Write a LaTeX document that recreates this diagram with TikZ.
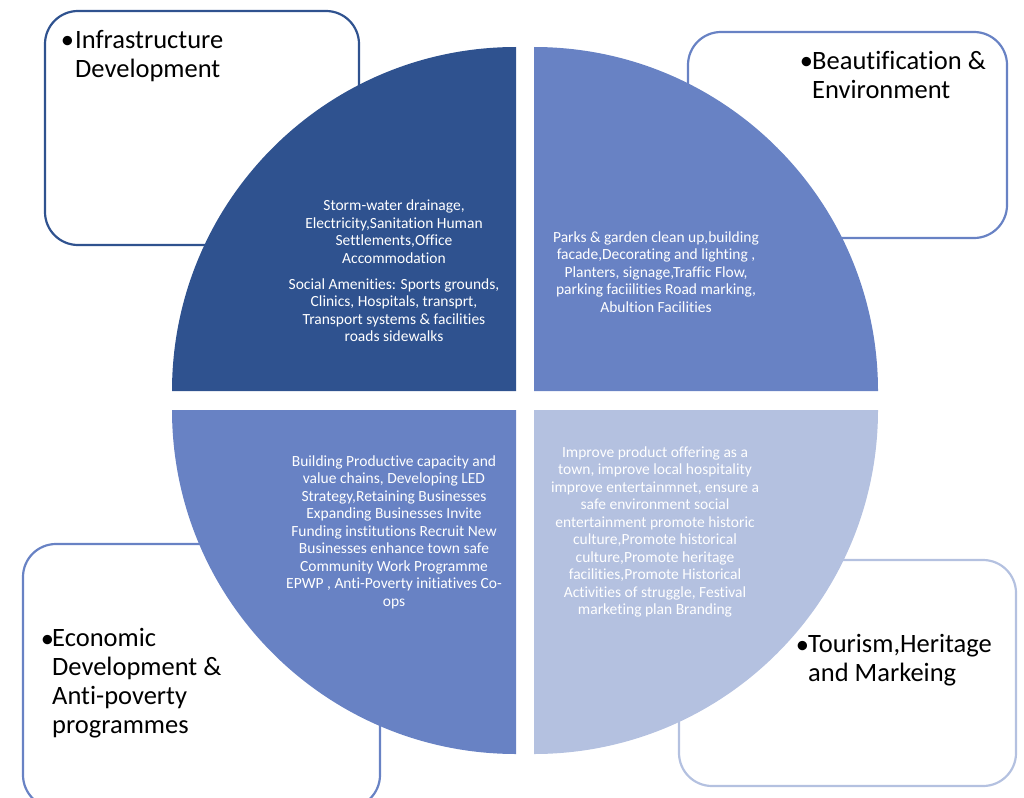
\documentclass[tikz,border=0pt]{standalone}
\usepackage{fontspec}
\setmainfont{Carlito}[Ligatures=NoCommon]
\definecolor{qdark}{HTML}{2F528F}
\definecolor{qmid}{HTML}{6882C4}
\definecolor{qlight}{HTML}{B4C1E0}
\begin{document}
\begin{tikzpicture}[x=1pt,y=-1pt,
  box/.style={line width=2.2pt,rounded corners=33pt},
  qtext/.style={inner sep=0pt,align=center,text=white,font=\fontsize{15.5}{17.5}\selectfont},
  lbl/.style={inner sep=0pt,align=left,anchor=north west,text=black,font=\fontsize{26.5}{29}\selectfont},
  bul/.style={inner sep=0pt,anchor=base,text=black,font=\fontsize{26.5}{29}\selectfont}]
\useasboundingbox (0,0) rectangle (1024,797);
% corner boxes (behind quadrants)
\draw[box,draw=qdark] (45,11) rectangle (359,245);
\draw[box,draw=qmid] (688,32) rectangle (1007,238);
\draw[box,draw=qmid] (23,544) rectangle (380,808);
\draw[box,draw=qlight] (679,560) rectangle (1016,786);
% quadrants
\fill[qdark] (516,391) -- (172,391) arc[start angle=180,end angle=270,radius=344] -- cycle;
\fill[qmid] (534,391) -- (534,47) arc[start angle=270,end angle=360,radius=344] -- cycle;
\fill[qmid] (516,410) -- (172,410) arc[start angle=180,end angle=90,radius=344] -- cycle;
\fill[qlight] (534,410) -- (878,410) arc[start angle=0,end angle=90,radius=344] -- cycle;
% quadrant texts
\node[qtext] (tltext) at (394,271) {Storm-water drainage,\\Electricity,Sanitation Human\\Settlements,Office\\Accommodation\\[8.5pt]Social Amenities: Sports grounds,\\Clinics, Hospitals, transprt,\\Transport systems \& facilities\\roads sidewalks};
\node[qtext] (trtext) at (656,272) {Parks \& garden clean up,building\\facade,Decorating and lighting ,\\Planters, signage,Traffic Flow,\\parking faciilities Road marking,\\Abultion Facilities};
\node[qtext] (bltext) at (394,532) {Building Productive capacity and\\value chains, Developing LED\\Strategy,Retaining Businesses\\Expanding Businesses Invite\\Funding institutions Recruit New\\Businesses enhance town safe\\Community Work Programme\\EPWP , Anti-Poverty initiatives Co-\\ops};
\node[qtext] (brtext) at (655,532) {Improve product offering as a\\town, improve local hospitality\\improve entertainmnet, ensure a\\safe environment social\\entertainment promote historic\\culture,Promote historical\\culture,Promote heritage\\facilities,Promote Historical\\Activities of struggle, Festival\\marketing plan Branding};
% labels
\node[bul] (tlbul) at (67.5,49) {•};
\node[lbl] (tllbl) at (75,30) {Infrastructure\\Development};
\node[bul] (trbul) at (806.5,70) {•};
\node[lbl] (trlbl) at (812,51) {Beautification \&\\Environment};
\node[bul] (blbul) at (47.5,647) {•};
\node[lbl] (bllbl) at (52,628) {Economic\\Development \&\\Anti-poverty\\programmes};
\node[bul] (brbul) at (802.5,653) {•};
\node[lbl] (brlbl) at (808,634) {Tourism,Heritage\\and Markeing};
\end{tikzpicture}
\end{document}
